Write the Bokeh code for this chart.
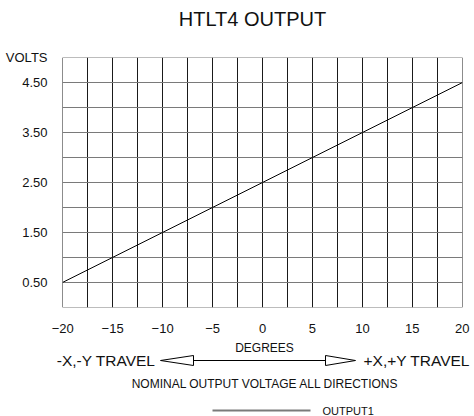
from bokeh.plotting import figure
from bokeh.layouts import column
from bokeh.models import FixedTicker, CustomJSTickFormatter, Range1d
from bokeh.core.properties import value
from bokeh.embed import file_html
from bokeh.resources import INLINE

# ---- data ----
degrees = [-20, -15, -10, -5, 0, 5, 10, 15, 20]
volts = [0.5, 1.0, 1.5, 2.0, 2.5, 3.0, 3.5, 4.0, 4.5]
x_tick_labels = [-20, -15, -10, -5, 0, 5, 10, 15, 20]
y_tick_labels = [0.5, 1.5, 2.5, 3.5, 4.5]
x_grid_lines = [-20 + 2.5 * i for i in range(17)]
y_grid_lines = [0.5 * i for i in range(11)]

title_text = "HTLT4 OUTPUT"
y_title = "VOLTS"
x_title = "DEGREES"
left_travel = "-X,-Y TRAVEL"
right_travel = "+X,+Y TRAVEL"
note_text = "NOMINAL OUTPUT VOLTAGE ALL DIRECTIONS"
series_name = "OUTPUT1"

FONT = "Liberation Sans"
INK = "#111111"

W = 474
HEAD_H = 40
TOP_H = 295
BOT_H = 416 - HEAD_H - TOP_H
FL, FW, FH = 62, 400, 250
FT = 57 - HEAD_H


def blank(height):
    fig = figure(width=W, height=height, output_backend="svg", toolbar_location=None,
                 x_range=Range1d(0, W), y_range=Range1d(height, 0),
                 x_axis_type=None, y_axis_type=None,
                 min_border_left=0, min_border_right=0,
                 min_border_top=0, min_border_bottom=0)
    fig.frame_align = False
    fig.outline_line_color = None
    fig.xgrid.visible = False
    fig.ygrid.visible = False
    return fig


def txt(fig, s, x, y, size, align):
    fig.text(x=[x], y=[y], text=[s], text_font=value(FONT), text_font_size=value(size),
             text_align=align, text_baseline="middle", text_color=INK)


# ---- header (title) ----
h = blank(HEAD_H)
txt(h, title_text, 252, 18, "20px", "center")

# ---- main chart ----
p = figure(width=W, height=TOP_H, output_backend="svg", toolbar_location=None,
           x_range=Range1d(-20.02, 20.02), y_range=Range1d(-0.003, 5.003),
           min_border_left=FL, min_border_top=FT,
           min_border_right=W - FL - FW, min_border_bottom=TOP_H - FT - FH)
p.frame_align = False
p.outline_line_color = None

for ax in (p.xaxis[0], p.yaxis[0]):
    ax.axis_line_color = None
    ax.major_tick_line_color = None
    ax.minor_tick_line_color = None
    ax.major_label_text_font = FONT
    ax.major_label_text_font_size = "13px"
    ax.major_label_text_color = INK
p.xaxis.ticker = FixedTicker(ticks=x_tick_labels)
p.yaxis.ticker = FixedTicker(ticks=y_tick_labels + [5.0])
p.yaxis.formatter = CustomJSTickFormatter(
    args=dict(name=y_title),
    code="return Math.abs(tick - 5) < 1e-9 ? name : tick.toFixed(2);")
p.xaxis.major_label_standoff = 10
p.yaxis.major_label_standoff = 9

p.xgrid.ticker = FixedTicker(ticks=x_grid_lines)
p.ygrid.ticker = FixedTicker(ticks=y_grid_lines)
p.xgrid.grid_line_color = "#1a1a1a"
p.ygrid.grid_line_color = "#7a7a7a"
p.xgrid.grid_line_width = 1
p.ygrid.grid_line_width = 1

p.line(degrees, volts, line_color="black", line_width=1)

# ---- footer (axis title, travel arrow, note, legend) ----
f = blank(BOT_H)
txt(f, x_title, 264, 12, "12px", "center")
txt(f, left_travel, 155, 25, "15.5px", "right")
txt(f, right_travel, 363, 25, "15.5px", "left")
txt(f, note_text, 265, 48, "12px", "center")
txt(f, series_name, 322, 75, "11px", "left")

f.segment(x0=[193], y0=[25], x1=[325], y1=[25], line_color="black", line_width=1)
f.patches(xs=[[160, 193, 193], [355, 325, 325]], ys=[[25, 20, 30], [25, 20, 30]],
          fill_color="white", line_color="black", line_width=1)
f.segment(x0=[212], y0=[75], x1=[310], y1=[75], line_color="#7a7a7a", line_width=2)

layout = column(h, p, f, spacing=0)
open("out.html", "w").write(file_html(layout, INLINE))
